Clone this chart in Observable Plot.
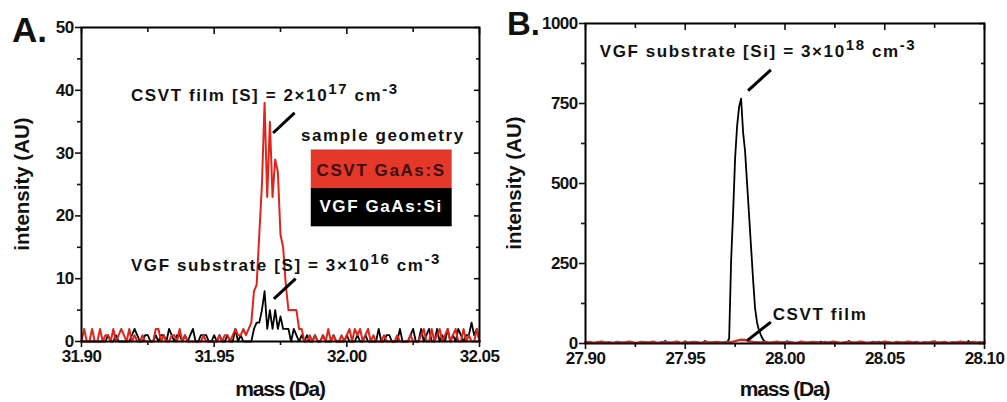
<!DOCTYPE html>
<html><head><meta charset="utf-8">
<script src="https://cdn.jsdelivr.net/npm/d3@7"></script>
<script src="https://cdn.jsdelivr.net/npm/@observablehq/plot@0.6"></script>
<style>
html,body{margin:0;padding:0;background:#fff;}
#wrap{position:relative;width:1007px;height:402px;overflow:hidden;background:#fff;}
#pa{position:absolute;left:0;top:0;}
#pb{position:absolute;left:500px;top:0;}
</style></head><body><div id="wrap"><div id="pa"></div><div id="pb"></div></div>
<script>
// ---------- Panel A data (mass 31.900 .. 32.050, step 0.001 Da) ----------
const massStartA = 31.900, massStepA = 0.001;
const redA = [
 0,2,0,0,2,0,0,2,0,1, 1,0,2,0,1,2,1,0,2,0, 1,0,0,1,0,0,0,0,2,2, 0,1,0,0,1,1,0,2,0,1,
 0,0,0,0,0,0,1,0,0,0, 0,0,1,0,1,1,0,1,2,1, 1,2,1,2,3,8,9,17,25,38, 23,35,23,29,27,17,15,9,5,5,
 5,5,2,2,0,0,1,0,1,0, 0,1,0,2,0,1,0,0,1,0, 1,2,0,2,1,2,0,1,2,0, 1,0,0,0,1,0,0,0,0,1,
 0,0,0,0,1,0,0,0,1,2, 0,0,2,0,1,2,0,1,2,0, 1,2,0,0,2,0,1,0,0,2, 0];
const blackA = [
 0,0,0,0,0,0,0,0,0,0, 1,0,0,1,0,0,0,0,0,1, 2,1,0,0,1,1,0,0,1,0, 1,1,0,2,1,0,1,1,0,1,
 0,1,2,0,0,1,1,1,0,0, 1,0,1,0,0,1,0,0,2,0, 1,0,0,0,0,2,3,3,5,8, 2,5,2,5,2,4,2,2,2,0,
 2,1,0,1,0,1,0,0,1,0, 0,1,0,0,0,1,0,0,0,0, 1,0,0,0,1,0,0,1,0,0, 0,0,2,0,0,1,1,0,0,0,
 2,0,0,0,1,2,0,0,2,0, 1,2,0,0,2,0,1,0,2,0, 1,0,2,1,0,1,1,3,1,2, 0];
const xMajorA = [31.90, 31.95, 32.00, 32.05];
const xMinorA = [31.925, 31.975, 32.025];
const yMajorA = [0, 10, 20, 30, 40, 50];
const yMinorA = [5, 15, 25, 35, 45];
const legendA = [
  {label: "CSVT GaAs:S", x1: 31.9866, x2: 32.0397, y1: 24.4, y2: 30.5, fill: "#e5382b", ink: "#3a0c08", tx: 32.0131, ty: 26.2},
  {label: "VGF GaAs:Si", x1: 31.9866, x2: 32.0397, y1: 18.26, y2: 24.4, fill: "#000000", ink: "#ffffff", tx: 32.0131, ty: 20.5}
];
const leadersA = [
  {x1: 31.9722, y1: 33.2, x2: 31.9803, y2: 36.4},
  {x1: 31.9725, y1: 6.8, x2: 31.9807, y2: 10.0}
];
const notesA = [
  {x: 31.9188, y: 38.2, anchor: "start", parts: [["CSVT film [S] = 2×10", 0], ["17", 1], [" cm", 0], ["-3", 1]]},
  {x: 31.9188, y: 11.2, anchor: "start", parts: [["VGF substrate [S] = 3×10", 0], ["16", 1], [" cm", 0], ["-3", 1]]},
  {x: 32.0138, y: 31.8, anchor: "middle", parts: [["sample geometry", 0]]}
];

// ---------- Panel B data (mass 27.900 .. 28.100) ----------
const massStartB = 27.900, blackStepB = 0.001, redStepB = 0.002;
const blackB = [
 2,1,2,3,1,2,2,1,3,2, 1,2,2,1,2,3,1,2,1,2, 2,3,1,2,2,1,2,3,2,1, 2,1,3,2,1,2,2,1,2,3,
 8,2,1,2,2,3,1,2,2,1, 7,2,2,1,3,2,1,2,2,3, 8,2,1,2,2,1,3,2,2,2,
 2,4,15,260,410,580,680,740,765,660, 600,500,400,300,200,110,65,40,25,12,
 6,4,3,3,2,3,2,5,2,3, 2,7,2,3,2,1,2,3,2,2, 1,2,3,2,2,1,2,2,6,2, 3,2,2,1,2,3,2,2,1,2,
 2,3,8,2,1,2,2,3,2,1, 2,2,3,1,2,2,2,6,2,3, 1,2,2,3,2,1,2,2,3,2, 2,1,2,3,2,2,1,2,2,3,
 2,2,1,2,3,7,2,2,1,2, 3,2,2,1,2,2,3,2,1,2, 2,3,8,2,1,2,2,3,2,1, 2];
const redB = [
 3,5,2,4,6,3,4,2,5,3, 4,6,3,2,5,4,3,6,2,4, 5,3,4,6,2,4,3,5,4,2, 6,3,4,5,3,4,5,6,9,12,
 11,7,5,4,3,5,2,4,6,3, 4,5,3,2,6,4,3,5,4,2, 5,3,6,4,2,4,5,3,4,6, 3,2,5,4,3,6,4,2,5,3,
 4,6,3,5,2,4,3,6,4,3, 5,2,4,3,6,4,2,5,3,4, 3];
const xMajorB = [27.90, 27.95, 28.00, 28.05, 28.10];
const xMinorB = [27.925, 27.975, 28.025, 28.075];
const yMajorB = [0, 250, 500, 750, 1000];
const yMinorB = [125, 375, 625, 875];
const leadersB = [
  {x1: 27.9815, y1: 790, x2: 27.9929, y2: 855},
  {x1: 27.9810, y1: 9, x2: 27.9929, y2: 67}
];
const notesB = [
  {x: 27.9074, y: 895, anchor: "start", parts: [["VGF substrate [Si] = 3×10", 0], ["18", 1], [" cm", 0], ["-3", 1]]},
  {x: 27.9941, y: 72, anchor: "start", parts: [["CSVT film", 0]]}
];

// ---------- helpers ----------
const RED = "#e3241b";
const FONT = "'Liberation Sans', Arial, Helvetica, sans-serif";
const toRows = (vals, start, step) => vals.map((v, i) => ({mass: +(start + i * step).toFixed(4), v}));

function axes(xMaj, xMin, yMaj, yMin, xfmt, yfmt) {
  const blank = () => "";
  const sw = 1.6;
  return [
    Plot.axisX(xMaj, {anchor: "bottom", tickSize: 6, tickPadding: 2, tickFormat: xfmt, label: null, strokeWidth: sw}),
    Plot.axisX(xMin, {anchor: "bottom", tickSize: 4, tickFormat: blank, label: null, strokeWidth: sw}),
    Plot.axisX(xMaj, {anchor: "top", tickSize: -6, tickFormat: blank, label: null, strokeWidth: sw}),
    Plot.axisX(xMin, {anchor: "top", tickSize: -4, tickFormat: blank, label: null, strokeWidth: sw}),
    Plot.axisY(yMaj, {anchor: "left", tickSize: 6, tickPadding: 2, tickFormat: yfmt, label: null, strokeWidth: sw}),
    Plot.axisY(yMin, {anchor: "left", tickSize: 4, tickFormat: blank, label: null, strokeWidth: sw}),
    Plot.axisY(yMaj, {anchor: "right", tickSize: -6, tickFormat: blank, label: null, strokeWidth: sw}),
    Plot.axisY(yMin, {anchor: "right", tickSize: -4, tickFormat: blank, label: null, strokeWidth: sw})
  ];
}

function addNotes(plot, notes) {
  const sx = plot.scale("x"), sy = plot.scale("y");
  const svg = d3.select(plot);
  for (const n of notes) {
    const t = svg.append("text")
      .attr("x", sx.apply(n.x)).attr("y", sy.apply(n.y))
      .attr("text-anchor", n.anchor)
      .attr("font-family", FONT).attr("font-weight", "bold")
      .attr("font-size", 17).attr("letter-spacing", "1.6px").attr("fill", "#111");
    let raised = false;
    for (const [s, sup] of n.parts) {
      const ts = t.append("tspan").text(s);
      if (sup && !raised) { ts.attr("dy", -7).attr("font-size", 15); raised = true; }
      else if (sup) { ts.attr("font-size", 15); }
      else if (!sup && raised) { ts.attr("dy", 7); raised = false; }
    }
  }
}

function addLabels(plot, o) {
  const svg = d3.select(plot);
  svg.append("text").text("mass (Da)")
    .attr("x", o.cx).attr("y", 396).attr("text-anchor", "middle")
    .attr("font-family", FONT).attr("font-weight", "bold").attr("font-size", 21)
    .attr("letter-spacing", "-1.2px").attr("fill", "#111");
  svg.append("text").text("intensity (AU)")
    .attr("transform", `translate(${o.ylx},${o.cy}) rotate(-90)`).attr("text-anchor", "middle")
    .attr("font-family", FONT).attr("font-weight", "bold").attr("font-size", 20.5)
    .attr("letter-spacing", "0px").attr("fill", "#111");
  svg.append("text").text(o.letter)
    .attr("x", o.lx).attr("y", o.ly).attr("text-anchor", "start")
    .attr("font-family", FONT).attr("font-weight", "bold").attr("font-size", o.ls)
    .attr("letter-spacing", "0px").attr("fill", "#111");
}

const baseStyle = {fontFamily: FONT, fontSize: "17px", fontWeight: "bold", letterSpacing: "-0.6px", background: "white", color: "#111", overflow: "visible"};

// ---------- Panel A ----------
const mA = {left: 81, right: 21, top: 27, bottom: 61};
const plotA = Plot.plot({
  width: 500, height: 402,
  marginLeft: mA.left, marginRight: mA.right, marginTop: mA.top, marginBottom: mA.bottom,
  x: {domain: [31.90, 32.05]},
  y: {domain: [0, 50]},
  style: baseStyle,
  marks: [
    ...axes(xMajorA, xMinorA, yMajorA, yMinorA, d3.format(".2f"), d3.format("d")),
    Plot.line(toRows(blackA, massStartA, massStepA), {x: "mass", y: "v", stroke: "#000", strokeWidth: 1.8}),
    Plot.line(toRows(redA, massStartA, massStepA), {x: "mass", y: "v", stroke: RED, strokeWidth: 2}),
    Plot.rect(legendA, {x1: "x1", x2: "x2", y1: "y1", y2: "y2", fill: "fill"}),
    Plot.link(leadersA, {x1: "x1", y1: "y1", x2: "x2", y2: "y2", stroke: "#000", strokeWidth: 3}),
    Plot.frame({stroke: "#000", strokeWidth: 2})
  ]
});
document.getElementById("pa").appendChild(plotA);
addNotes(plotA, notesA);
{
  const sx = plotA.scale("x"), sy = plotA.scale("y");
  const svg = d3.select(plotA);
  for (const l of legendA) {
    svg.append("text").text(l.label)
      .attr("x", sx.apply(l.tx)).attr("y", sy.apply(l.ty)).attr("text-anchor", "middle")
      .attr("font-family", FONT).attr("font-weight", "bold").attr("font-size", 17)
      .attr("letter-spacing", "1.6px").attr("fill", l.ink);
  }
}
addLabels(plotA, {cx: (mA.left + 500 - mA.right) / 2, cy: (mA.top + 402 - mA.bottom) / 2, ylx: 28.5, letter: "A.", lx: 12, ly: 42, ls: 35});

// ---------- Panel B ----------
const mB = {left: 85, right: 23, top: 23, bottom: 59};
const plotB = Plot.plot({
  width: 507, height: 402,
  marginLeft: mB.left, marginRight: mB.right, marginTop: mB.top, marginBottom: mB.bottom,
  x: {domain: [27.90, 28.10]},
  y: {domain: [0, 1000]},
  style: baseStyle,
  marks: [
    ...axes(xMajorB, xMinorB, yMajorB, yMinorB, d3.format(".2f"), d3.format("d")),
    Plot.line(toRows(blackB, massStartB, blackStepB), {x: "mass", y: "v", stroke: "#000", strokeWidth: 1.8}),
    Plot.line(toRows(redB, massStartB, redStepB), {x: "mass", y: "v", stroke: RED, strokeWidth: 2.4}),
    Plot.link(leadersB, {x1: "x1", y1: "y1", x2: "x2", y2: "y2", stroke: "#000", strokeWidth: 3}),
    Plot.frame({stroke: "#000", strokeWidth: 2})
  ]
});
document.getElementById("pb").appendChild(plotB);
addNotes(plotB, notesB);
addLabels(plotB, {cx: (mB.left + 507 - mB.right) / 2, cy: (mB.top + 402 - mB.bottom) / 2, ylx: 20.5, letter: "B.", lx: 7, ly: 35, ls: 33});
</script>
</body></html>
